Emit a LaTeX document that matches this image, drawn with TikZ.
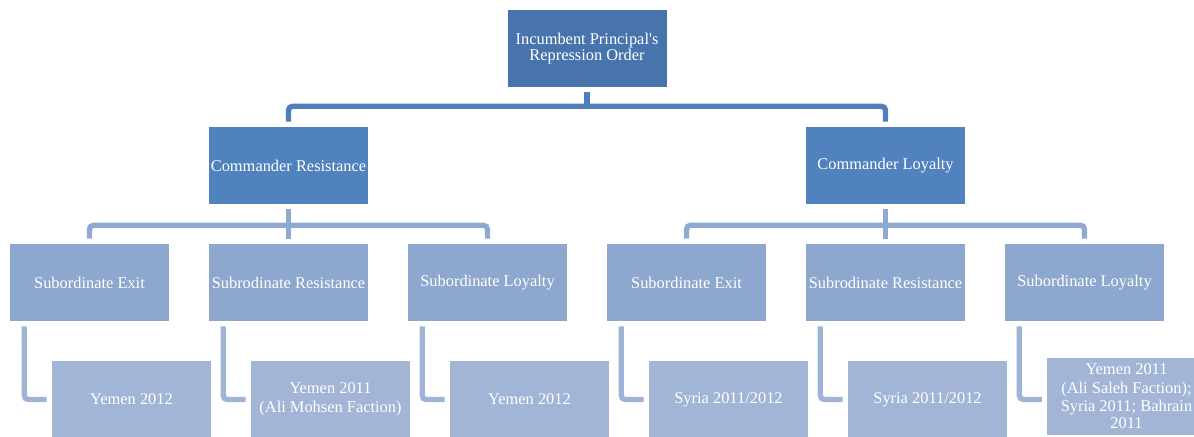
\documentclass[tikz,border=0pt]{standalone}
\usepackage{fontspec}
\setmainfont{Liberation Serif}
\usepackage{tikz}

\definecolor{toptone}{HTML}{4874AD}
\definecolor{cmdtone}{HTML}{5082BE}
\definecolor{subtone}{HTML}{8DA7CE}
\definecolor{casetone}{HTML}{A2B5D6}
\definecolor{linetop}{HTML}{4F7FBB}
\definecolor{linesub}{HTML}{8FAAD2}
\definecolor{linecase}{HTML}{9FB3D7}

\tikzset{
  box/.style={rectangle, inner sep=0pt, minimum width=119.25pt, minimum height=57.75pt,
    align=center, text=white, font=\fontsize{12.3}{12.5}\selectfont},
  topbox/.style={box, fill=toptone},
  cmdbox/.style={box, fill=cmdtone},
  subbox/.style={box, fill=subtone},
  casebox/.style={box, fill=casetone, font=\fontsize{12.3}{14}\selectfont},
  conn/.style={line width=4pt, rounded corners=3pt, shorten <=3.75pt, shorten >=3.75pt},
  stem/.style={line width=4pt, shorten <=3.75pt, shorten >=-2pt},
}

\begin{document}
\begin{tikzpicture}[x=0.75pt,y=-0.75pt]

        \useasboundingbox (0,0) rectangle (1194,436);
        \clip (0,0) rectangle (1194,436);

        %Order
        \node [topbox] (order) at (587,48.5) {Incumbent Principal\textquotesingle s\\Repression Order};

        %Commanders
        \node [cmdbox] (cres) at (288.5,165.5) {Commander Resistance};
        \node [cmdbox] (cloy) at (885.5,165.5) {Commander Loyalty};

        %Subordinates
        \node [subbox] (rexit) at (89.5,282.5)  {Subordinate Exit};
        \node [subbox] (rres)  at (288.5,282.5) {Subrodinate Resistance};
        \node [subbox] (rloy)  at (487.5,282.5) {Subordinate Loyalty};
        \node [subbox] (lexit) at (686.5,282.5) {Subordinate Exit};
        \node [subbox] (lres)  at (885.5,282.5) {Subrodinate Resistance};
        \node [subbox] (lloy)  at (1084.5,282.5) {Subordinate Loyalty};

        %Cases
        \node [casebox] (crexit) at (131.5,399.5)  {Yemen 2012};
        \node [casebox] (crres)  at (330.5,399.5)  {Yemen 2011\\(Ali Mohsen Faction)};
        \node [casebox] (crloy)  at (529.5,399.5)  {Yemen 2012};
        \node [casebox] (clexit) at (728.5,399.5)  {Syria 2011/2012};
        \node [casebox] (clres)  at (927.5,399.5)  {Syria 2011/2012};
        \node [casebox] (clloy)  at (1126.5,396)   {Yemen 2011\\(Ali Saleh Faction);\\Syria 2011; Bahrain\\[-1.5pt]2011};

        %Order to commanders
        \coordinate (obar) at ([yshift=-14.25pt]order.south);
        \draw [stem, linetop] (order.south) -- (obar);
        \draw [conn, linetop] (cres.north) |- (obar) -| (cloy.north);

        %Commanders to subordinates
        \foreach \c/\a/\b/\d in {cres/rexit/rres/rloy, cloy/lexit/lres/lloy}{
          \coordinate (bar) at ([yshift=-15.75pt]\c.south);
          \draw [conn, linesub] (\a.north) |- (bar) -| (\d.north);
          \draw [conn, linesub] (\c.south) -- (\b.north);
        }

        %Subordinates to cases
        \foreach \s/\k in {rexit/crexit, rres/crres, rloy/crloy, lexit/clexit, lres/clres, lloy/clloy}{
          \draw [conn, linecase] ([xshift=10.9pt]\s.south west) |- (\k.west |- 0,399.5);
        }

      \end{tikzpicture}
\end{document}
